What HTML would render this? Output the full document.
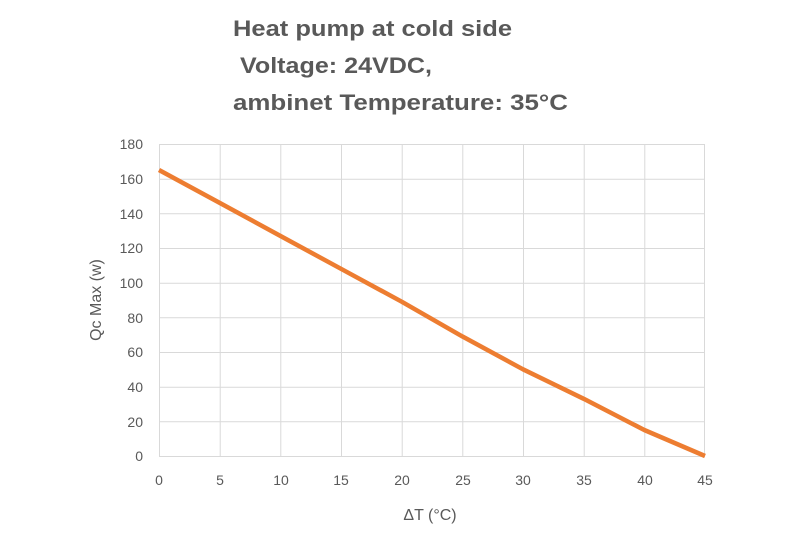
<!DOCTYPE html>
<html><head><meta charset="utf-8"><style>
body{margin:0;background:#fff;}
</style></head><body>
<svg width="800" height="533" xmlns="http://www.w3.org/2000/svg" font-family="Liberation Sans, sans-serif">
<rect width="800" height="533" fill="#fff"/>
<g font-weight="bold" font-size="22" fill="#595959">
<text x="233" y="36" textLength="279" lengthAdjust="spacingAndGlyphs">Heat pump at cold side</text>
<text x="240" y="73" textLength="192" lengthAdjust="spacingAndGlyphs">Voltage: 24VDC,</text>
<text x="233" y="110" textLength="335" lengthAdjust="spacingAndGlyphs">ambinet Temperature: 35°C</text>
</g>
<g stroke="#d9d9d9" stroke-width="1">
<line x1="159" y1="144.5" x2="705" y2="144.5"/>
<line x1="159" y1="179.2" x2="705" y2="179.2"/>
<line x1="159" y1="213.8" x2="705" y2="213.8"/>
<line x1="159" y1="248.5" x2="705" y2="248.5"/>
<line x1="159" y1="283.2" x2="705" y2="283.2"/>
<line x1="159" y1="317.8" x2="705" y2="317.8"/>
<line x1="159" y1="352.5" x2="705" y2="352.5"/>
<line x1="159" y1="387.2" x2="705" y2="387.2"/>
<line x1="159" y1="421.8" x2="705" y2="421.8"/>
<line x1="159" y1="456.5" x2="705" y2="456.5"/>
<line x1="159.5" y1="144" x2="159.5" y2="456"/>
<line x1="220.2" y1="144" x2="220.2" y2="456"/>
<line x1="280.8" y1="144" x2="280.8" y2="456"/>
<line x1="341.5" y1="144" x2="341.5" y2="456"/>
<line x1="402.2" y1="144" x2="402.2" y2="456"/>
<line x1="462.8" y1="144" x2="462.8" y2="456"/>
<line x1="523.5" y1="144" x2="523.5" y2="456"/>
<line x1="584.2" y1="144" x2="584.2" y2="456"/>
<line x1="644.8" y1="144" x2="644.8" y2="456"/>
<line x1="704.5" y1="144" x2="704.5" y2="456"/>
</g>
<polyline fill="none" stroke="#ED7D31" stroke-width="4.5" stroke-linejoin="round" points="159,170 219.7,202.9 280.3,235.9 341,268.8 401.7,301.7 462.3,336.4 523,369.3 583.7,398.8 644.3,430 705,456"/>
<g font-size="14" fill="#595959" text-anchor="end">
<text x="143" y="149">180</text><text x="143" y="184">160</text><text x="143" y="219">140</text>
<text x="143" y="253">120</text><text x="143" y="288">100</text><text x="143" y="323">80</text>
<text x="143" y="357">60</text><text x="143" y="392">40</text><text x="143" y="427">20</text>
<text x="143" y="461">0</text>
</g>
<g font-size="14" fill="#595959" text-anchor="middle">
<text x="159" y="485">0</text><text x="220" y="485">5</text><text x="281" y="485">10</text>
<text x="341" y="485">15</text><text x="402" y="485">20</text><text x="463" y="485">25</text>
<text x="523" y="485">30</text><text x="584" y="485">35</text><text x="645" y="485">40</text>
<text x="705" y="485">45</text>
<text x="430" y="520" font-size="16">ΔT (°C)</text>
<text transform="translate(101,300) rotate(-90)" font-size="16">Qc Max (w)</text>
</g>
</svg>
</body></html>
